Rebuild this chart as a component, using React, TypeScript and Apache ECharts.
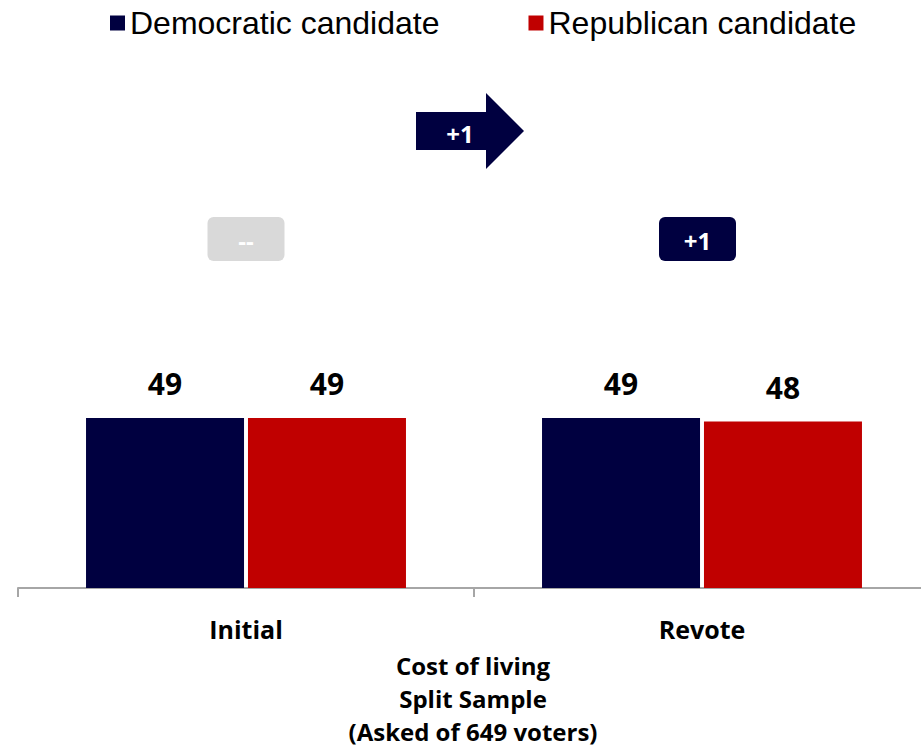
import React, { useEffect, useRef } from "react";
import * as echarts from "echarts";

const categories = ["Initial", "Revote"];
const democratic = [49, 49];
const republican = [49, 48];
const shiftLabels = ["--", "+1"];
const overallShift = "+1";
const seriesNames = ["Democratic candidate", "Republican candidate"];
const footnoteLines = ["Cost of living", "Split Sample", "(Asked of 649 voters)"];

const NAVY = "#000040";
const RED = "#c00000";
const GREY_BOX = "#d9d9d9";
const AXIS = "#a6a6a6";
const BOLD_FONT = "'Open Sans', Lato, sans-serif";

export default function App() {
  const ref = useRef<HTMLDivElement>(null);

  useEffect(() => {
    if (!ref.current) return;
    const chart = echarts.init(ref.current, null, { renderer: "svg" });

    const boxCenters = [246, 697.5];
    const boxColors = [GREY_BOX, NAVY];

    const graphic: any[] = [];
    shiftLabels.forEach((t, i) => {
      graphic.push({
        type: "rect",
        shape: { x: boxCenters[i] - 38.5, y: 217, width: 77, height: 44, r: 6 },
        style: { fill: boxColors[i] },
        z: 10,
      });
      graphic.push({
        type: "text",
        x: boxCenters[i],
        y: 240,
        style: {
          text: t,
          fill: "#ffffff",
          font: `bold 24px ${BOLD_FONT}`,
          textAlign: "center",
          textVerticalAlign: "middle",
        },
        z: 11,
      });
    });
    graphic.push({
      type: "polygon",
      shape: {
        points: [
          [416, 112],
          [486, 112],
          [486, 93],
          [524, 131],
          [486, 169],
          [486, 150],
          [416, 150],
        ],
      },
      style: { fill: NAVY },
      z: 10,
    });
    graphic.push({
      type: "text",
      x: 460,
      y: 133,
      style: {
        text: overallShift,
        fill: "#ffffff",
        font: `bold 24px ${BOLD_FONT}`,
        textAlign: "center",
        textVerticalAlign: "middle",
      },
      z: 11,
    });
    graphic.push({
      type: "text",
      x: 473,
      y: 649,
      style: {
        text: footnoteLines.join("\n"),
        fill: "#000000",
        font: `bold 24px ${BOLD_FONT}`,
        lineHeight: 33,
        textAlign: "center",
        textVerticalAlign: "top",
      },
    });

    const labelCfg = {
      show: true,
      position: "top" as const,
      distance: 19,
      color: "#000000",
      fontFamily: BOLD_FONT,
      fontWeight: "bold" as const,
      fontSize: 30,
    };

    chart.setOption({
      animation: false,
      legend: {
        left: 105,
        top: 2,
        itemWidth: 15,
        itemHeight: 15,
        itemGap: 89,
        icon: "rect",
        textStyle: {
          fontFamily: "'Liberation Sans', Arial, sans-serif",
          fontSize: 32,
          color: "#000000",
        },
        data: seriesNames,
      },
      grid: { left: 18, top: 241, width: 912, height: 347, containLabel: false },
      xAxis: {
        type: "category",
        data: categories,
        axisLine: { show: true, lineStyle: { color: AXIS, width: 2 } },
        axisTick: { show: true, length: 9, lineStyle: { color: AXIS, width: 2 } },
        axisLabel: {
          margin: 28,
          color: "#000000",
          fontFamily: BOLD_FONT,
          fontWeight: "bold",
          fontSize: 25,
        },
      },
      yAxis: {
        type: "value",
        min: 0,
        max: 100,
        show: false,
        splitLine: { show: false },
      },
      series: [
        {
          name: seriesNames[0],
          type: "bar",
          data: democratic,
          barWidth: 158,
          barGap: "2.5%",
          itemStyle: { color: NAVY },
          label: labelCfg,
        },
        {
          name: seriesNames[1],
          type: "bar",
          data: republican,
          barWidth: 158,
          barGap: "2.5%",
          itemStyle: { color: RED },
          label: labelCfg,
        },
      ],
      graphic,
    });

    return () => chart.dispose();
  }, []);

  return (
    <div
      style={{
        position: "fixed",
        left: 0,
        top: 0,
        width: 921,
        height: 748,
        overflow: "hidden",
        background: "#ffffff",
      }}
    >
      <div ref={ref} style={{ width: 940, height: 748 }} />
    </div>
  );
}
